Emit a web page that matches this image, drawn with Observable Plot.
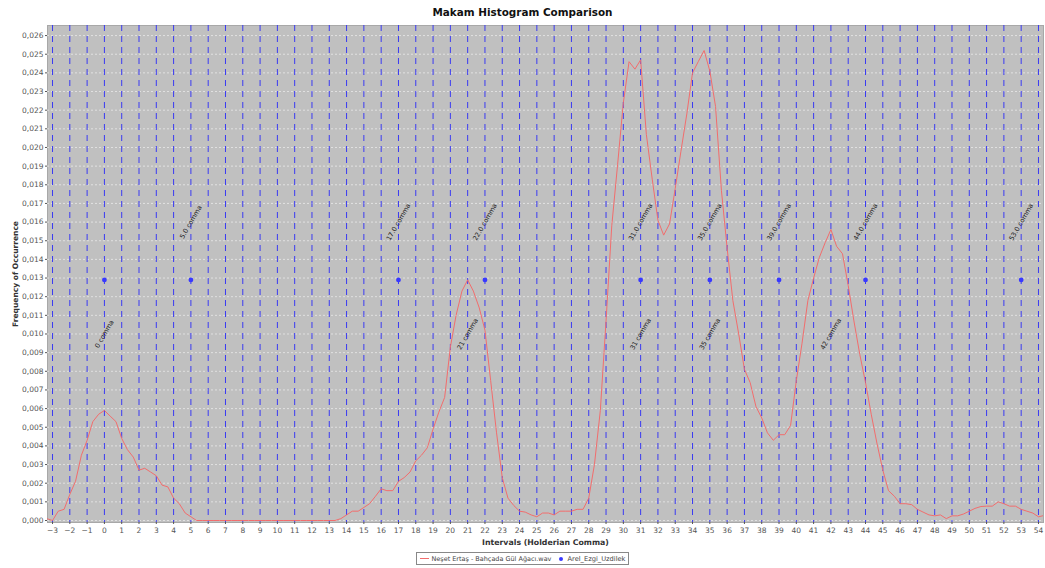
<!DOCTYPE html>
<html>
<head>
<meta charset="utf-8">
<script src="https://cdn.jsdelivr.net/npm/d3@7"></script>
<script src="https://cdn.jsdelivr.net/npm/@observablehq/plot@0.6"></script>
<style>
  html, body { margin: 0; padding: 0; background: #fff; }
  body { width: 1045px; height: 568px; overflow: hidden; font-family: "DejaVu Sans", sans-serif; }
  #title { height: 22px; line-height: 24px; text-align: center; font-family: "DejaVu Sans", sans-serif; font-weight: bold; font-size: 11px; color: #111; }
  #chart svg { display: block; }
  #chart [aria-label="x-axis label"], #chart [aria-label="y-axis label"] { font-weight: bold; fill: #333; }
  #legend { display: flex; justify-content: center; }
  #legend .box { display: flex; align-items: center; border: 1px solid #888; padding: 0 3px; font-size: 6.6px; color: #444; height: 13px; box-sizing: border-box; }
  #legend .sw-line { width: 9px; height: 1px; background: #f26d6d; margin-right: 3px; }
  #legend .sw-dot { width: 4px; height: 4px; border-radius: 50%; background: #3838ff; margin: 0 4px 0 8px; }
</style>
</head>
<body>
<div id="title"><span id="titletext">Makam Histogram Comparison</span></div>
<div id="chart"></div>
<div id="legend"><div class="box"><span class="sw-line"></span><span id="lg1">Neşet Ertaş - Bahçada Gül Ağacı.wav</span><span class="sw-dot"></span><span id="lg2">Arel_Ezgi_Uzdilek</span></div></div>
<script>
// Histogram sample positions (Holderian commas) and frequencies
const histX = [
  -3.33,
  -3, -2.67, -2.33,
  -2, -1.67, -1.33,
  -1, -0.67, -0.33,
  0, 0.33, 0.67,
  1, 1.33, 1.67,
  2, 2.33, 2.67,
  3, 3.33, 3.67,
  4, 4.33, 4.67,
  5, 5.33, 5.67,
  6, 6.33, 6.67,
  7, 7.33, 7.67,
  8, 8.33, 8.67,
  9, 9.33, 9.67,
  10, 10.33, 10.67,
  11, 11.33, 11.67,
  12, 12.33, 12.67,
  13, 13.33, 13.67,
  14, 14.33, 14.67,
  15, 15.33, 15.67,
  16, 16.33, 16.67,
  17, 17.33, 17.67,
  18, 18.33, 18.67,
  19, 19.33, 19.67,
  20, 20.33, 20.67,
  21, 21.33, 21.67,
  22, 22.33, 22.67,
  23, 23.33, 23.67,
  24, 24.33, 24.67,
  25, 25.33, 25.67,
  26, 26.33, 26.67,
  27, 27.33, 27.67,
  28, 28.33, 28.67,
  29, 29.33, 29.67,
  30, 30.33, 30.67,
  31, 31.33, 31.67,
  32, 32.33, 32.67,
  33, 33.33, 33.67,
  34, 34.33, 34.67,
  35, 35.33, 35.67,
  36, 36.33, 36.67,
  37, 37.33, 37.67,
  38, 38.33, 38.67,
  39, 39.33, 39.67,
  40, 40.33, 40.67,
  41, 41.33, 41.67,
  42, 42.33, 42.67,
  43, 43.33, 43.67,
  44, 44.33, 44.67,
  45, 45.33, 45.67,
  46, 46.33, 46.67,
  47, 47.33, 47.67,
  48, 48.33, 48.67,
  49, 49.33, 49.67,
  50, 50.33, 50.67,
  51, 51.33, 51.67,
  52, 52.33, 52.67,
  53, 53.33, 53.67,
  54, 54.33
];
const histY = [
  0.0001,
  0.0000, 0.0005, 0.0006,
  0.0014, 0.0021, 0.0035,
  0.0043, 0.0053, 0.0057,
  0.0059, 0.0056, 0.0053,
  0.0044, 0.0038, 0.0034,
  0.0027, 0.0028, 0.0026,
  0.0024, 0.0019, 0.0018,
  0.0012, 0.0009, 0.0004,
  0.0002, 0, 0,
  0, 0, 0,
  0, 0, 0,
  0, 0, 0,
  0, 0, 0,
  0, 0, 0,
  0, 0, 0,
  0, 0, 0,
  0, 0, 0.0001,
  0.0003, 0.0005, 0.0005,
  0.0007, 0.0009, 0.0013,
  0.0017, 0.0016, 0.0016,
  0.0021, 0.0023, 0.0026,
  0.0032, 0.0035, 0.0039,
  0.0049, 0.0058, 0.0066,
  0.0093, 0.0110, 0.0123,
  0.0129, 0.0123, 0.0114,
  0.0102, 0.0075, 0.0047,
  0.0023, 0.0012, 0.0008,
  0.0005, 0.00045, 0.0003,
  0.0002, 0.0004, 0.0004,
  0.0003, 0.0005, 0.0005,
  0.0005, 0.0006, 0.0006,
  0.0012, 0.0030, 0.0059,
  0.0107, 0.0158, 0.0191,
  0.0224, 0.0246, 0.0242,
  0.0247, 0.0207, 0.0183,
  0.0161, 0.0153, 0.0159,
  0.0178, 0.0198, 0.0218,
  0.0240, 0.0246, 0.0252,
  0.0241, 0.0222, 0.0177,
  0.0146, 0.0118, 0.0100,
  0.0081, 0.0074, 0.0061,
  0.0055, 0.0047, 0.0043,
  0.0046, 0.0046, 0.0051,
  0.0075, 0.0095, 0.0118,
  0.0130, 0.0141, 0.0149,
  0.0156, 0.0147, 0.0143,
  0.0126, 0.0107, 0.0089,
  0.0074, 0.0057, 0.0041,
  0.0027, 0.0016, 0.0013,
  0.0009, 0.0009, 0.00085,
  0.0006, 0.00045, 0.0003,
  0.00025, 0.0003, 0.0001,
  0.00025, 0.00025, 0.00035,
  0.0005, 0.00065, 0.00075,
  0.00077, 0.00077, 0.0010,
  0.0009, 0.00077, 0.00077,
  0.0006, 0.0005, 0.0004,
  0.0002, 0.00027
];

// Arel-Ezgi-Uzdilek scale points
const scaleX = [0, 5, 17, 22, 31, 35, 39, 44, 53];
const scaleLevel = 0.0129;
const scaleLabelX = [5, 17, 22, 31, 35, 39, 44, 53];
const scaleLabels = ["5.0 comma", "17.0 comma", "22.0 comma", "31.0 comma", "35.0 comma", "39.0 comma", "44.0 comma", "53.0 comma"];
const scaleLabelLevel = 0.0160;

// Detected histogram peaks
const peakX = [0, 21, 31, 35, 42];
const peakLabels = ["0 comma", "21 comma", "31 comma", "35 comma", "42 comma"];
const peakLabelLevel = 0.0100;

// Axis ticks
const xTicks = [-3,-2,-1,0,1,2,3,4,5,6,7,8,9,10,11,12,13,14,15,16,17,18,19,20,21,22,23,24,25,26,27,28,29,30,31,32,33,34,35,36,37,38,39,40,41,42,43,44,45,46,47,48,49,50,51,52,53,54];
const yTicks = [0,0.001,0.002,0.003,0.004,0.005,0.006,0.007,0.008,0.009,0.010,0.011,0.012,0.013,0.014,0.015,0.016,0.017,0.018,0.019,0.020,0.021,0.022,0.023,0.024,0.025,0.026];

const hist = histX.map((x, i) => ({x, y: histY[i]}));
const scalePts = scaleX.map(x => ({x, y: scaleLevel}));
const scaleTxt = scaleLabelX.map((x, i) => ({x, y: scaleLabelLevel, t: scaleLabels[i]}));
const peakTxt = peakX.map((x, i) => ({x, y: peakLabelLevel, t: peakLabels[i]}));

const fmt = d => d.toFixed(3).replace(".", ",");

const chart = Plot.plot({
  width: 1045,
  height: 530,
  marginLeft: 47,
  marginRight: 2,
  marginTop: 3,
  marginBottom: 30,
  style: {fontFamily: "DejaVu Sans, sans-serif", background: "white", overflow: "visible"},
  x: {domain: [-3.29, 54.29]},
  y: {domain: [-0.000107, 0.02654]},
  marks: [
    Plot.frame({fill: "#c0c0c0", stroke: "#a8a8a8"}),
    Plot.ruleY(yTicks, {stroke: "#f4f4f4", strokeWidth: 0.8, strokeDasharray: "2,2", strokeOpacity: 0.8}),
    Plot.ruleX(xTicks, {stroke: "#3a3af2", strokeWidth: 1, strokeDasharray: "6,5"}),
    Plot.line(hist, {x: "x", y: "y", stroke: "#f26d6d", strokeWidth: 1, clip: true}),
    Plot.dot(scalePts, {x: "x", y: "y", r: 2.4, fill: "#3838ff", stroke: null}),
    Plot.text(scaleTxt, {x: "x", y: "y", text: "t", rotate: -60, fontSize: 6.6, fill: "#222"}),
    Plot.text(peakTxt, {x: "x", y: "y", text: "t", rotate: -60, fontSize: 6.6, fill: "#222"}),
    Plot.axisX({ticks: xTicks, tickSize: 2, tickPadding: 3, fontSize: 7.5, color: "#555",
      label: "Intervals (Holderian Comma)", labelAnchor: "center", labelArrow: "none", labelOffset: 22}),
    Plot.axisY({ticks: yTicks, tickFormat: fmt, tickSize: 2, tickPadding: 2, fontSize: 7.5, color: "#555",
      label: "Frequency of Occurrence", labelAnchor: "center", labelArrow: "none", labelOffset: 35})
  ]
});
document.getElementById("chart").appendChild(chart);

// Fit text sizes to the reference's measured text widths
function fitSvgText(sel, target) {
  chart.querySelectorAll(sel).forEach(t => {
    const size = parseFloat(getComputedStyle(t).fontSize) || 8;
    const len = t.getComputedTextLength();
    if (len > 0) t.style.fontSize = (size * target / len).toFixed(2) + "px";
  });
}
fitSvgText('[aria-label="x-axis label"] text', 127);
fitSvgText('[aria-label="y-axis label"] text', 106);
function fitHtml(id, target) {
  const el = document.getElementById(id);
  const size = parseFloat(getComputedStyle(el).fontSize);
  const w = el.getBoundingClientRect().width;
  if (w > 0) el.style.fontSize = (size * target / w).toFixed(2) + "px";
}
fitHtml("titletext", 180);
fitHtml("lg1", 120);
fitHtml("lg2", 58);
</script>
</body>
</html>
